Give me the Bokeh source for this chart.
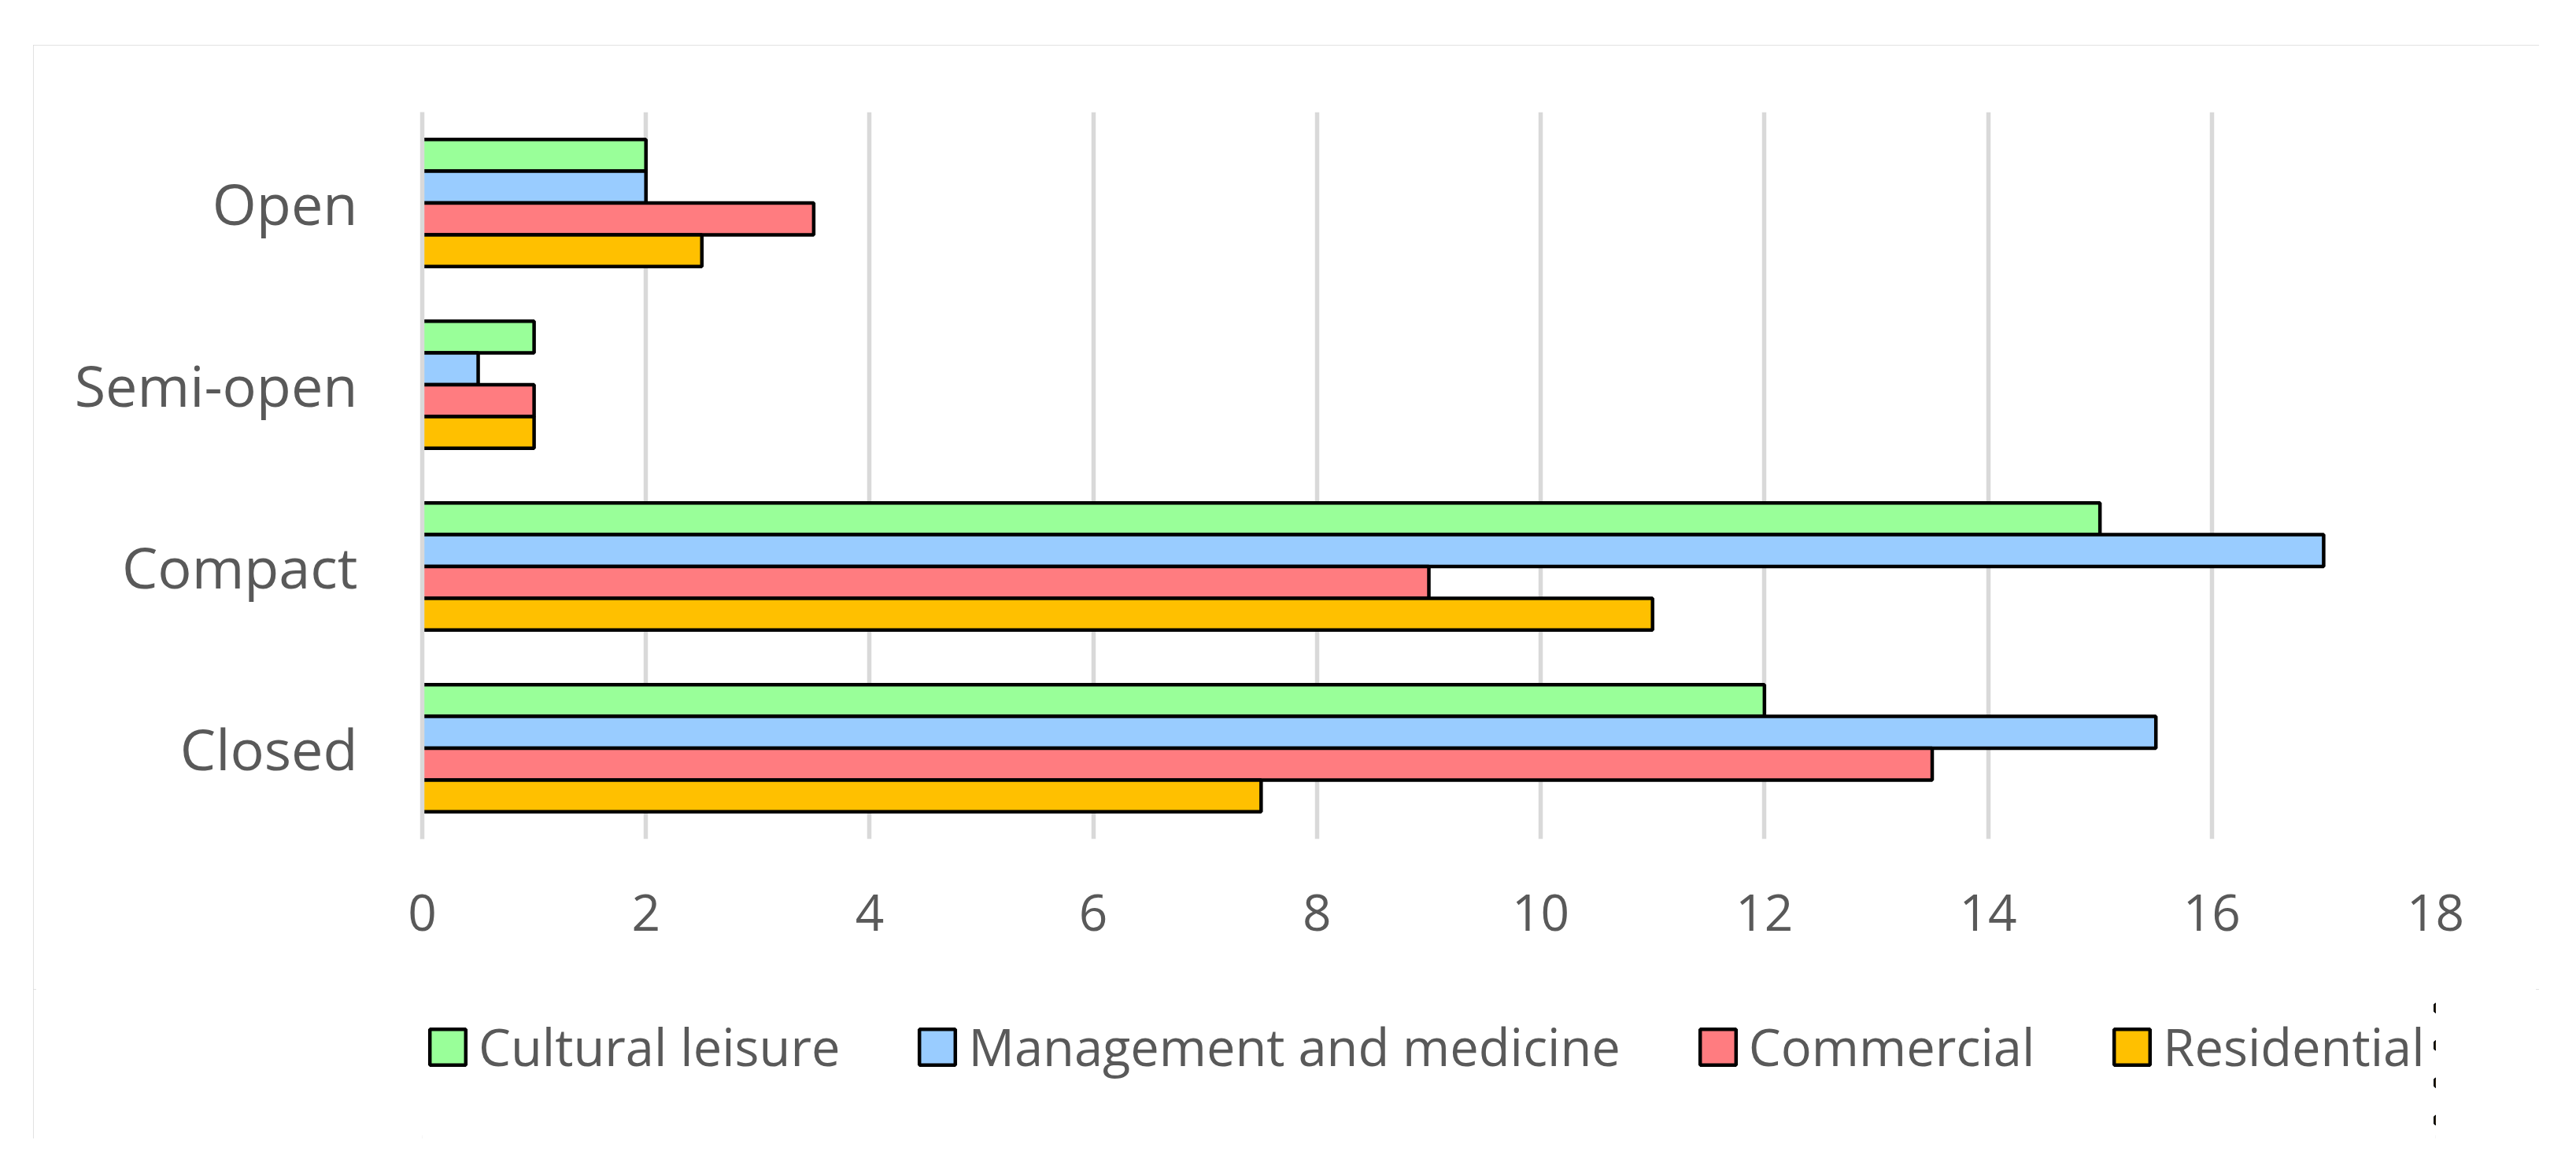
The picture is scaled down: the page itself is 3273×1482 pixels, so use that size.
from bokeh.plotting import figure
from bokeh.layouts import column
from bokeh.models import (FactorRange, Range1d, Legend, LegendItem,
                          FixedTicker, ColumnDataSource)
from bokeh.transform import dodge
from bokeh.embed import file_html
from bokeh.resources import INLINE

# ---- data ----
categories = ["Open", "Semi-open", "Compact", "Closed"]
series_names = ["Cultural leisure", "Management and medicine", "Commercial", "Residential"]
cultural_leisure = [2, 1, 15, 12]
management_medicine = [2, 0.5, 17, 15.5]
commercial = [3.5, 1, 9, 13.5]
residential = [2.5, 1, 11, 7.5]
x_ticks = [0, 2, 4, 6, 8, 10, 12, 14, 16, 18]

# ---- style ----
colors = ["#99FF99", "#99CCFF", "#FF7C80", "#FFC000"]
bar_h = 0.175
offsets = [1.5 * bar_h, 0.5 * bar_h, -0.5 * bar_h, -1.5 * bar_h]
text_color = "#595959"
grid_color = "#d9d9d9"
FONT = "Open Sans"
keys = ["s0", "s1", "s2", "s3"]

source = ColumnDataSource(dict(
    cat=categories,
    s0=cultural_leisure,
    s1=management_medicine,
    s2=commercial,
    s3=residential,
))

W = 3184
H_MAIN, H_LEG = 1200, 190

# ---- main chart ----
p = figure(width=W, height=H_MAIN, output_backend="svg", toolbar_location=None,
           y_range=FactorRange(factors=categories[::-1]),
           x_range=Range1d(0, 18),
           min_border_left=494, min_border_right=132,
           min_border_top=85, min_border_bottom=191)
p.background_fill_color = "white"
p.border_fill_color = "white"
p.outline_line_color = None

for i, key in enumerate(keys):
    p.hbar(y=dodge("cat", offsets[i], range=p.y_range), left=0, right=key,
           height=bar_h, source=source, fill_color=colors[i],
           line_color="black", line_width=4.5)

p.xaxis.ticker = FixedTicker(ticks=x_ticks)
p.xaxis.axis_line_color = None
p.xaxis.major_tick_line_color = None
p.xaxis.minor_tick_line_color = None
p.xaxis.major_tick_out = 0
p.xaxis.major_tick_in = 0
p.xaxis.major_label_standoff = 70
p.xaxis.major_label_text_font = FONT
p.xaxis.major_label_text_font_size = "64px"
p.xaxis.major_label_text_color = text_color

p.yaxis.axis_line_color = grid_color
p.yaxis.axis_line_width = 5.5
p.yaxis.major_tick_line_color = None
p.yaxis.minor_tick_line_color = None
p.yaxis.major_tick_out = 0
p.yaxis.major_tick_in = 0
p.yaxis.major_label_standoff = 82
p.yaxis.major_label_text_font = FONT
p.yaxis.major_label_text_font_size = "72px"
p.yaxis.major_label_text_color = text_color

p.xgrid.ticker = FixedTicker(ticks=x_ticks)
p.xgrid.grid_line_color = grid_color
p.xgrid.grid_line_width = 5.5
p.ygrid.grid_line_color = None

# ---- legend strip (its bars lie outside the visible x range; only the legend shows) ----
q = figure(width=W, height=H_LEG, output_backend="svg", toolbar_location=None,
           x_range=Range1d(-40, -20), y_range=FactorRange(factors=categories[::-1]),
           x_axis_type=None, y_axis_type=None, min_border=0,
           min_border_top=0, min_border_bottom=0)
q.background_fill_color = "white"
q.border_fill_color = "white"
q.outline_line_color = None
q.grid.visible = False

legend_renderers = []
for i, key in enumerate(keys):
    r = q.hbar(y="cat", left=0, right=key, height=bar_h, source=source,
               fill_color=colors[i], line_color="black", line_width=4.5)
    legend_renderers.append(r)

legend = Legend(items=[LegendItem(label=n, renderers=[r])
                       for n, r in zip(series_names, legend_renderers)],
                orientation="horizontal", location=(4, 73),
                glyph_width=57, glyph_height=57, label_standoff=11, spacing=95,
                padding=0, margin=0,
                label_text_font=FONT, label_text_font_size="65px",
                label_text_color=text_color,
                border_line_color=None, background_fill_alpha=0)
q.add_layout(legend, "center")

layout = column(p, q, spacing=0)
layout.margin = (57, 0, 0, 42)
layout.styles = {"outline": "4px solid #d9d9d9", "outline-offset": "-4px"}

open("out.html", "w").write(file_html(layout, INLINE))
